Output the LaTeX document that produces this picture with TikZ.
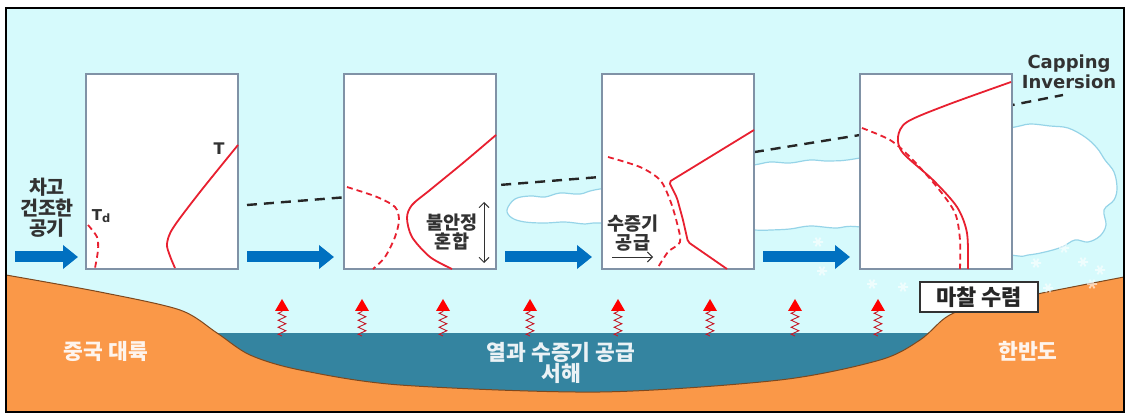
\documentclass[tikz,border=0pt]{standalone}
\usepackage{fontspec}
\setmainfont{DejaVu Sans}
\newfontfamily\kr{Noto Sans CJK KR}
\usetikzlibrary{arrows.meta,decorations.pathmorphing,calc}

\definecolor{sky}{RGB}{214,250,252}
\definecolor{land}{RGB}{250,152,72}
\definecolor{landedge}{RGB}{125,72,30}
\definecolor{sea}{RGB}{52,132,160}
\definecolor{flowblue}{RGB}{0,112,192}
\definecolor{profred}{RGB}{232,32,48}
\definecolor{boxedge}{RGB}{128,146,166}
\definecolor{cloudedge}{RGB}{150,212,232}
\definecolor{textgray}{RGB}{50,50,50}

\begin{document}
\begin{tikzpicture}[x=1pt, y=-1pt,
    profile/.style={draw=boxedge, line width=1.2pt, fill=white, minimum width=152pt,
        minimum height=195pt, inner sep=0pt, outer sep=0pt},
    flow/.style={flowblue, line width=11pt, -{Triangle[length=15pt, width=23pt]}},
    tcurve/.style={profred, line width=1.8pt},
    tdcurve/.style={profred, line width=1.8pt, dash pattern=on 6pt off 4pt},
    heat/.style={profred!85!black, line width=0.9pt, decorate,
        decoration={zigzag, amplitude=3.8pt, segment length=7pt}},
    lbl/.style={font=\kr\bfseries\fontsize{18.5}{19}\selectfont, text=textgray, align=center, inner sep=0pt},
    place/.style={font=\kr\bfseries\fontsize{21.5}{20}\selectfont, text=white, opacity=0.9, inner sep=0pt},
    flake/.style={white, line width=1.8pt, opacity=0.6}]

    % Frame and sky
    \fill[white] (0,0) rectangle (1128,414);
    \useasboundingbox (0,0) rectangle (1128,414);
    \fill[sky] (6,8) rectangle (1124,412);

    % Sea, then the land over it
    \fill[sea] (200,333) rectangle (960,405);
    \draw[fill=land, draw=landedge, line width=1pt]
        plot[smooth] coordinates {(6,275) (100,292) (180,310) (217,333) (250,355) (300,370)
            (400,385) (600,392) (780,380) (880,360) (920,340) (945,318) (967,309)
            (1047,292) (1124,277)} -- (1124,412) -- (6,412) -- cycle;

    % Cloud band, growing toward the peninsula
    \draw[cloudedge, fill=white, line width=1.2pt]
        plot[smooth cycle, tension=0.6] coordinates {(507,210) (515,199) (530,196) (545,197)
            (560,193) (580,194) (600,189) (680,178) (754,165) (770,162) (790,163) (810,160)
            (830,161) (860,158) (950,140) (1015,127) (1030,124) (1050,126) (1068,128)
            (1085,137) (1097,148) (1105,160) (1114,172) (1117,188) (1114,200) (1104,210)
            (1106,225) (1100,236) (1088,242) (1075,240) (1062,247) (1045,252) (1028,255)
            (1011,255) (930,240) (860,227) (835,228) (810,226) (790,229) (770,230)
            (754,230) (680,226) (602,223) (585,224) (565,222) (545,223) (525,222) (512,218)};

    % Snow under the cloud
    \foreach \x/\y in {818/242, 822/271, 872/284, 903/287, 1036/263, 1064/248,
        1083/262, 1100/270, 1048/288, 1092/284}
        \draw[flake] (\x,\y) ++(-5,0) -- ++(10,0)
            (\x,\y) ++(-2.5,-4.3) -- ++(5,8.6)
            (\x,\y) ++(2.5,-4.3) -- ++(-5,8.6);

    % Top of the mixed layer
    \coordinate (cap0) at (247,205);
    \coordinate (cap1) at (600,177);
    \coordinate (cap2) at (860,135);
    \coordinate (cap3) at (1063,95);
    \draw[black!85, line width=2.4pt, dash pattern=on 10pt off 7pt]
        (cap0) -- (cap1) -- (cap2) -- (cap3);
    \node[font=\bfseries\fontsize{18}{20}\selectfont, text=textgray, align=center]
        (capping) at (1069,72) {Capping\\Inversion};

    % Sounding boxes
    \node[profile] (p1) at (162,171.5) {};
    \node[profile] (p2) at (420,171.5) {};
    \node[profile] (p3) at (678,171.5) {};
    \node[profile] (p4) at (936,171.5) {};

    % 1: cold dry air
    \draw[tcurve] plot[smooth] coordinates {(238,145) (200,192) (173,228) (167,244) (170,256) (175,268)};
    \draw[tdcurve] plot[smooth] coordinates {(88,225) (97,237) (98,250) (95,268)};
    \node[font=\bfseries\fontsize{16}{16}\selectfont, text=textgray] (tlab) at (219,149) {T};
    \node[font=\bfseries\fontsize{15}{15}\selectfont, text=textgray] (tdlab) at (101,216)
        {T\raisebox{-2pt}{\fontsize{11.5}{11.5}\selectfont d}};

    % 2: unstable mixing
    \draw[tcurve] plot[smooth] coordinates {(496,135) (463,163) (430,190) (412,205) (407,218)
        (412,237) (430,257) (452,269)};
    \draw[tdcurve] plot[smooth] coordinates {(347,187) (377,197) (395,207) (399,220) (395,237)
        (385,257) (373,269)};
    \coordinate (mixtop) at (484,202);
    \coordinate (mixbot) at (484,263);
    \draw[textgray, line width=0.9pt, {Straight Barb[length=5pt]}-{Straight Barb[length=5pt]}]
        (mixtop) -- (mixbot);
    \node[lbl] (mix) at (452,232) {불안정\\혼합};

    % 3: moisture supply
    \draw[tcurve, rounded corners=2pt] (754,130) -- (669,182) -- (677,198) -- (683,220)
        -- (688,242) -- (727,269);
    \draw[tdcurve] plot[smooth] coordinates {(608,157) (640,167) (660,180) (670,200) (677,223)
        (680,242) (668,252) (657,269)};
    \node[lbl] (moist) at (633,233) {수증기\\공급};
    \coordinate (ms0) at (612,257);
    \coordinate (ms1) at (653,257);
    \draw[textgray, line width=0.9pt, -{Straight Barb[length=5pt]}] (ms0) -- (ms1);

    % 4: saturated below the inversion
    \draw[tcurve] plot[smooth] coordinates {(1011,82) (947,105) (907,122) (898,137) (903,153)
        (933,180) (957,207) (967,233) (968,269)};
    \draw[tdcurve] plot[smooth] coordinates {(862,128) (890,140) (910,157) (937,187) (955,213)
        (960,240) (960,269)};

    % Air flow
    \coordinate (in0) at (15,257);
    \draw[flow] (in0) -- ([xshift=-8pt, yshift=12pt]p1.south west);
    \foreach \a/\b in {p1/p2, p2/p3, p3/p4}
        \draw[flow] ([xshift=9pt, yshift=12pt]\a.south east) -- ([xshift=-10pt, yshift=12pt]\b.south west);
    \node[font=\kr\bfseries\fontsize{19.5}{20.5}\selectfont, text=textgray, align=center, inner sep=0pt]
        (air) at (47,208) {차고\\건조한\\공기};

    % Heat and moisture from the sea
    \foreach \x [count=\i] in {282,362,443,530,618,710,795,878} {
        \coordinate (sb\i) at (\x,336);
        \coordinate (st\i) at (\x,311);
        \draw[heat] (sb\i) -- (st\i);
        \fill[red] ([xshift=-7pt]st\i) -- ([xshift=7pt]st\i) -- ([yshift=12pt]st\i) -- cycle;
    }

    % Place names
    \node[place] (china) at (106,351) {중국 대륙};
    \node[place] (korea) at (1028,351) {한반도};
    \node[place] (supply) at (561,352) {열과 수증기 공급};
    \node[place] (yellow) at (561,373) {서해};

    \node[draw=textgray, line width=1.5pt, fill=white, minimum width=118pt, minimum height=30pt,
        inner sep=0pt, font=\kr\bfseries\fontsize{22}{22}\selectfont, text=black!85] (fric) at (979,297) {마찰 수렴};

    \draw[black, line width=2.5pt] (6,8) rectangle (1124,412);
\end{tikzpicture}
\end{document}
